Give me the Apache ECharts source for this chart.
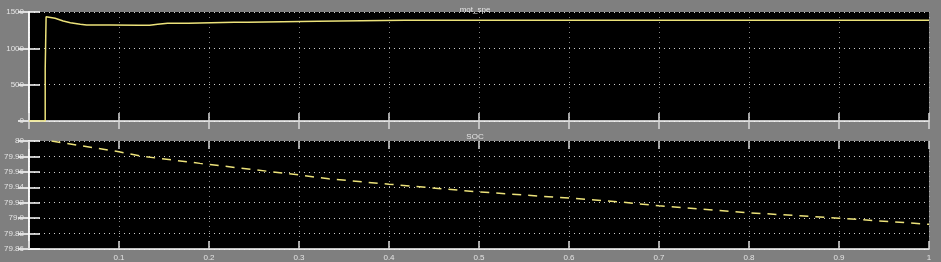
<!DOCTYPE html>
<html>
<head>
<meta charset="utf-8">
<script src="https://cdn.jsdelivr.net/npm/echarts@6/dist/echarts.min.js"></script>
<style>
  html, body { margin: 0; padding: 0; background: #7f7f7f; }
  #chart { width: 941px; height: 262px; }
</style>
</head>
<body>
<div id="chart"></div>
<script>
// speed trace (top panel)
const speedT = [0, 0.018, 0.018, 0.019, 0.029, 0.038, 0.046, 0.057, 0.064, 0.09, 0.122, 0.134, 0.135, 0.143, 0.154, 0.177, 0.228, 0.243, 0.244, 0.321, 0.418, 1.0];
const speedV = [0, 0, 715, 1435, 1413, 1376, 1353, 1330, 1321, 1321, 1317, 1317, 1330, 1330, 1344, 1344, 1358, 1358, 1371, 1371, 1385, 1385];

// SOC trace (bottom panel)
const socT = [0.025, 0.1, 0.127, 0.19, 0.3, 0.333, 0.4, 0.5, 0.6, 0.657, 0.7, 0.8, 0.9, 1.0];
const socV = [80.0, 79.986, 79.98, 79.971, 79.956, 79.951, 79.944, 79.934, 79.926, 79.921, 79.916, 79.907, 79.9, 79.892];

const titles = ['mot_spe', 'SOC'];

const chart = echarts.init(document.getElementById('chart'));

const labelColor = '#e4e4e4';
const tick = { show: true, inside: true, length: 8, lineStyle: { color: '#d8d8d8', width: 1.5 } };
const ytick = { show: true, inside: true, length: 11, lineStyle: { color: '#ffffff', width: 1.5 } };
const dotted = { show: true, lineStyle: { color: '#cfcfcf', type: [1, 4], width: 1 } };

function xAxes(gi, showLabels) {
  return [
    {
      type: 'value', gridIndex: gi, min: 0, max: 1, interval: 0.1,
      axisLine: { show: true, lineStyle: { color: '#ffffff', width: 1.5 } },
      axisTick: tick,
      axisLabel: {
        show: showLabels, color: labelColor, fontSize: 8, margin: 5,
        formatter: v => v === 0 ? '' : parseFloat(v.toFixed(1)).toString()
      },
      splitLine: { show: true, lineStyle: { color: '#bdbdbd', type: [1, 4], width: 1, opacity: 0.7 } }
    },
    {
      type: 'value', gridIndex: gi, position: 'top', min: 0, max: 1, interval: 0.1,
      axisLine: { show: false }, axisTick: tick, axisLabel: { show: false }, splitLine: { show: false }
    }
  ];
}

function yAxes(gi, min, max, interval, fmt) {
  return [
    {
      type: 'value', gridIndex: gi, min: min, max: max, interval: interval,
      axisLine: { show: true, lineStyle: { color: '#ffffff', width: 1.5 } },
      axisTick: ytick,
      axisLabel: { color: labelColor, fontSize: 8, margin: 5, formatter: fmt },
      splitLine: dotted
    },
    {
      type: 'value', gridIndex: gi, position: 'right', min: min, max: max, interval: interval,
      axisLine: { show: true, lineStyle: { color: '#ffffff', width: 1.5 } },
      axisTick: ytick, axisLabel: { show: false }, splitLine: { show: false }
    }
  ];
}

const option = {
  backgroundColor: '#7f7f7f',
  animation: false,
  title: [
    { text: titles[0], left: 470, top: 1, textAlign: 'center', textStyle: { color: labelColor, fontSize: 8, fontWeight: 'normal' } },
    { text: titles[1], left: 470, top: 128, textAlign: 'center', textStyle: { color: labelColor, fontSize: 8, fontWeight: 'normal' } }
  ],
  grid: [
    { left: 29, right: 12, top: 12, height: 109, backgroundColor: '#000000', show: true, borderWidth: 0 },
    { left: 29, right: 12, top: 141, height: 110, backgroundColor: '#000000', show: true, borderWidth: 0 }
  ],
  xAxis: [...xAxes(0, false), ...xAxes(1, true)],
  yAxis: [
    ...yAxes(0, 0, 1500, 500, v => String(v)),
    ...yAxes(1, 79.86, 80, 0.02, v => parseFloat(v.toFixed(2)).toString())
  ],
  series: [
    {
      type: 'line', xAxisIndex: 0, yAxisIndex: 0, showSymbol: false,
      data: speedT.map((t, i) => [t, speedV[i]]),
      lineStyle: { color: '#ece27a', width: 1.5 }
    },
    {
      type: 'line', xAxisIndex: 2, yAxisIndex: 2, showSymbol: false,
      data: socT.map((t, i) => [t, socV[i]]),
      lineStyle: { color: '#ece27a', width: 1.5, type: [9, 7] }
    }
  ]
};

chart.setOption(option);
</script>
</body>
</html>
